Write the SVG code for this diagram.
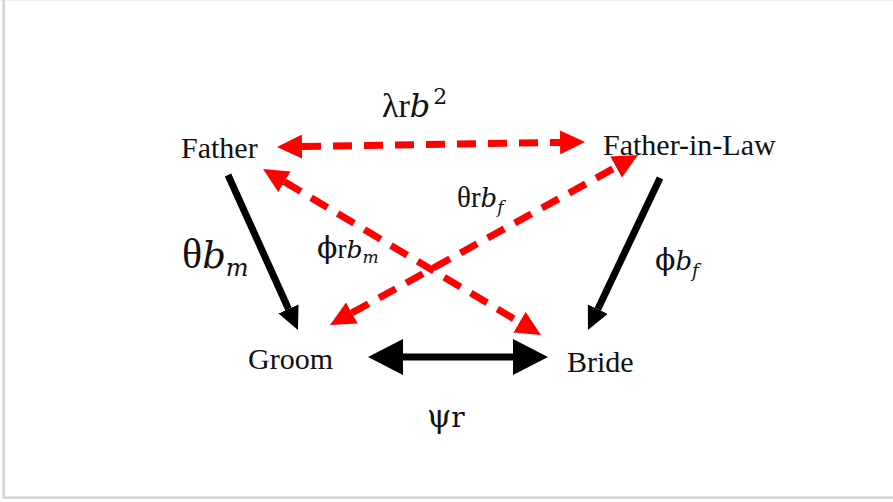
<svg xmlns="http://www.w3.org/2000/svg" width="893" height="502" viewBox="0 0 893 502">
<style>
.lbl{font-family:"Liberation Serif","DejaVu Serif",serif;font-size:30px;fill:#111}
.math{font-family:"Liberation Serif","DejaVu Serif",serif;fill:#111}
.dv{font-family:"DejaVu Serif","Liberation Serif",serif}
.it{font-family:"DejaVu Serif","Liberation Serif",serif;font-style:italic}
.red{stroke:#ff0000;stroke-width:7;stroke-dasharray:19 12;fill:none}
.blk{stroke:#000;stroke-width:7;fill:none}
</style>
<defs>
<marker id="rh" markerUnits="userSpaceOnUse" viewBox="0 0 25 24" refX="0" refY="12" markerWidth="25" markerHeight="24" orient="auto-start-reverse">
<path d="M0,0 L25,12 L0,24 z" fill="#ff0000"/>
</marker>
<marker id="bh" markerUnits="userSpaceOnUse" viewBox="0 0 23 22" refX="0" refY="11" markerWidth="23" markerHeight="22" orient="auto-start-reverse">
<path d="M0,0 L23,11 L0,22 z" fill="#000"/>
</marker>
<marker id="bbh" markerUnits="userSpaceOnUse" viewBox="0 0 35 36" refX="0" refY="18" markerWidth="35" markerHeight="36" orient="auto-start-reverse">
<path d="M0,0 L35,18 L0,36 z" fill="#000"/>
</marker>
</defs>
<rect x="0" y="0" width="893" height="502" fill="#fff"/>
<g id="frame">
<line x1="0" y1="0.5" x2="893" y2="0.5" stroke="#efefef" stroke-width="1.5"/>
<line x1="3.7" y1="0" x2="3.7" y2="499" stroke="#d2d2d2" stroke-width="2.4"/>
<line x1="3" y1="497.6" x2="893" y2="497.6" stroke="#d6d6d6" stroke-width="2.6"/>
</g>
<g id="connectors">
<line class="red" x1="302" y1="146.6" x2="560" y2="142.4" marker-start="url(#rh)" marker-end="url(#rh)"/>
<line class="red" x1="284.5" y1="181.8" x2="519.5" y2="322.2" marker-start="url(#rh)" marker-end="url(#rh)"/>
<line class="red" x1="351.9" y1="312.9" x2="616.1" y2="167.1" marker-start="url(#rh)" marker-end="url(#rh)"/>
<line class="blk" x1="228" y1="175" x2="288.5" y2="309" marker-end="url(#bh)"/>
<line class="blk" x1="660" y1="178" x2="597.8" y2="309.2" marker-end="url(#bh)"/>
<line class="blk" stroke-width="11" x1="403" y1="357" x2="513" y2="357" marker-start="url(#bbh)" marker-end="url(#bbh)"/>
</g>
<g id="father"><text class="lbl" x="181" y="158">Father</text></g>
<g id="father-in-law"><text class="lbl" x="603" y="155">Father-in-Law</text></g>
<g id="groom"><text class="lbl" x="248" y="369">Groom</text></g>
<g id="bride"><text class="lbl" x="567" y="372">Bride</text></g>
<g id="labels">
<text class="math" x="382" y="117" font-size="34">λr<tspan class="it" font-size="32">b</tspan><tspan class="dv" font-size="22" dx="3" dy="-13">2</tspan></text>
<text class="math" x="182" y="268" font-size="42">θ<tspan class="it" font-size="37">b</tspan><tspan class="it" font-size="24" dy="8">m</tspan></text>
<text class="math" x="317" y="258" font-size="27"><tspan class="dv" font-size="30">ϕ</tspan>r<tspan class="it" font-size="25">b</tspan><tspan class="it" font-size="17" dy="5">m</tspan></text>
<text class="math" x="457" y="207" font-size="29">θr<tspan class="it" font-size="26">b</tspan><tspan class="it" font-size="17" dy="6">f</tspan></text>
<text class="math" x="655" y="270" font-size="26"><tspan class="dv" font-size="30">ϕ</tspan><tspan class="it">b</tspan><tspan class="it" font-size="18" dy="7">f</tspan></text>
<text class="math" x="427" y="427" font-size="28"><tspan class="dv" font-size="31">ψ</tspan><tspan class="dv">r</tspan></text>
</g>
</svg>
